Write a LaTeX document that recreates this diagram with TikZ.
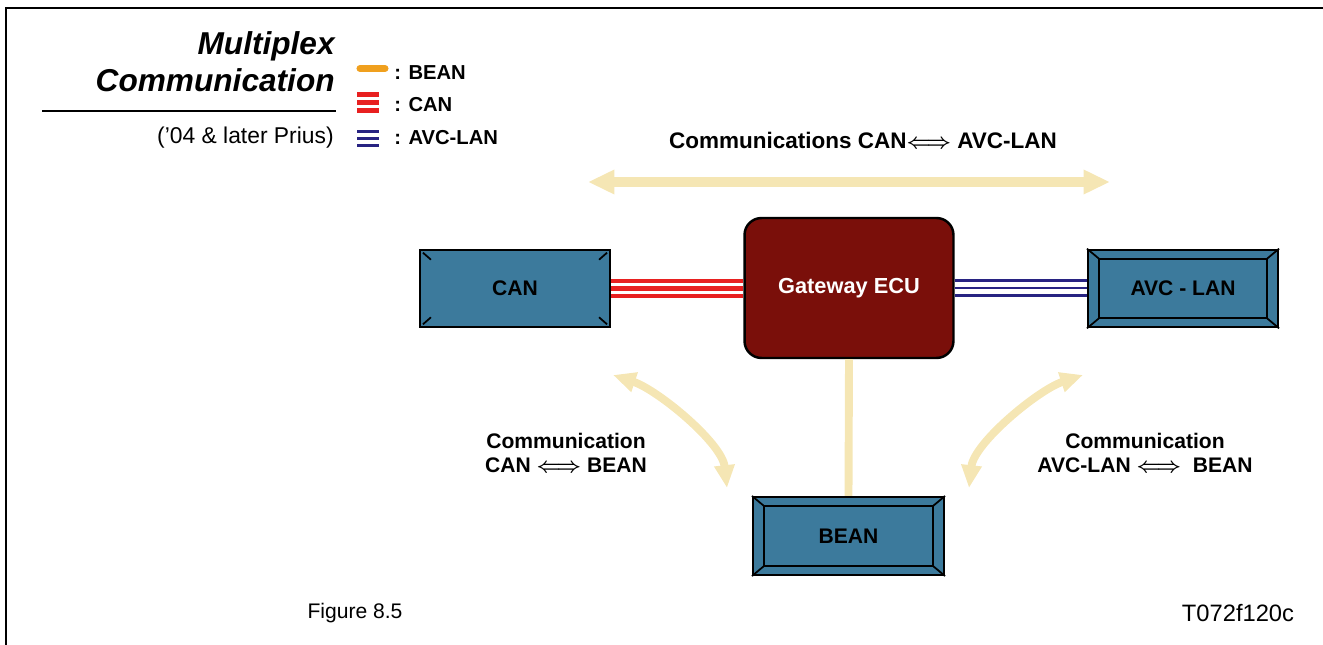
\documentclass[tikz,border=0pt]{standalone}
\usepackage{fontspec}
\setmainfont{Liberation Sans}
\usetikzlibrary{arrows.meta}

\definecolor{unitblue}{RGB}{60,122,156}
\definecolor{gwred}{RGB}{122,15,10}
\definecolor{busred}{RGB}{232,32,32}
\definecolor{busnavy}{RGB}{40,35,130}
\definecolor{beanorange}{RGB}{240,160,30}
\definecolor{flowcream}{RGB}{245,230,180}

\tikzset{
  unit/.style={draw=black, line width=1.2pt, fill=unitblue,
    minimum width=3.8cm, minimum height=1.55cm,
    font=\fontsize{12}{14}\selectfont\bfseries},
  bevel/.style={line width=1pt},
  canwire/.style={busred, line width=2.3pt},
  avcwire/.style={busnavy, line width=1.7pt},
  flow/.style={flowcream, line width=4.5pt,
    {Triangle[width=11pt,length=13pt]}-{Triangle[width=11pt,length=13pt]}},
  lbl/.style={font=\fontsize{12}{13.6}\selectfont\bfseries\boldmath, align=center},
  legendtxt/.style={anchor=base west, inner sep=0pt, font=\fontsize{11.5}{13}\selectfont\bfseries},
  headtxt/.style={anchor=base east, inner sep=0pt, font=\fontsize{18}{20}\selectfont\bfseries\itshape},
}

\begin{document}
\begin{tikzpicture}[x=0.02cm, y=-0.02cm]
\useasboundingbox (0,0) rectangle (1323,645);
% frame
\draw[line width=1.6pt] (6,645) -- (6,8) -- (1323,8);
% heading
\node[headtxt] (title1) at (335,55) {Multiplex};
\node[headtxt] (title2) at (335,92) {Communication};
\draw[line width=0.6pt] (42,111) -- (336,111);
\node[anchor=base east, inner sep=0pt, font=\fontsize{13}{15}\selectfont] (model) at (334,144) {('04 \& later Prius)};
% legend
\draw[beanorange, line width=4pt, line cap=round] (360,68.5) -- (385,68.5);
\foreach \y in {94.5,102.5,110.5}
  \draw[canwire] (357,\y) -- (379,\y);
\foreach \y in {131.5,138.5,145.5}
  \draw[avcwire] (357,\y) -- (379,\y);
\node[legendtxt] (keybean) at (394,80) {: BEAN};
\node[legendtxt] (keycan) at (394,112) {: CAN};
\node[legendtxt] (keyavc) at (394,145) {: AVC-LAN};
% top flow
\node[lbl, font=\fontsize{12.8}{14}\selectfont\bfseries\boldmath] (canavc) at (863,140) {Communications CAN$\Longleftrightarrow$ AVC-LAN};
\coordinate (topL) at (588,182);
\coordinate (topR) at (1110,182);
\draw[flow, line width=5.5pt, {Triangle[width=13pt,length=15pt]}-{Triangle[width=13pt,length=15pt]}] (topL) -- (topR);
% units
\node[unit] (can) at (515,288.5) {CAN};
\node[draw=black, line width=1.4pt, fill=gwred, rounded corners=0.34cm,
  minimum width=4.18cm, minimum height=2.8cm, text=white,
  font=\fontsize{12.4}{14}\selectfont\bfseries] (gw) at (849,288) {Gateway ECU};
\node[unit] (avc) at (1183,288.5) {AVC - LAN};
\node[unit, minimum width=3.82cm, minimum height=1.56cm] (bean) at (848.5,536) {BEAN};
% wires
\foreach \d in {-4.5pt,0pt,4.5pt}
  \draw[canwire] ([yshift=\d]can.east) -- ([yshift=\d]can.east -| gw.west);
\foreach \d in {-4.2pt,0pt,4.2pt}
  \draw[avcwire] ([yshift=\d]gw.east -| gw.east) -- ([yshift=\d]gw.east -| avc.west);
\draw[flowcream, line width=4.5pt] (gw.south) -- (bean.north);
% bevels
\foreach \b in {avc,bean} {
  \draw[bevel] ([shift={(12,10)}]\b.north west) rectangle ([shift={(-12,-10)}]\b.south east);
  \draw[bevel] (\b.north west) -- ++(12,10);
  \draw[bevel] (\b.north east) -- ++(-12,10);
  \draw[bevel] (\b.south west) -- ++(12,-10);
  \draw[bevel] (\b.south east) -- ++(-12,-10);
}
\draw[bevel] ([shift={(4,4)}]can.north west) -- ++(8,7);
\draw[bevel] ([shift={(-4,4)}]can.north east) -- ++(-8,7);
\draw[bevel] ([shift={(4,-4)}]can.south west) -- ++(8,-7);
\draw[bevel] ([shift={(-4,-4)}]can.south east) -- ++(-8,-7);
% bean flows
\coordinate (lcA) at (613,375);
\coordinate (lcB) at (727,488);
\draw[flow] (lcA) .. controls (658,390) and (722,443) .. (lcB);
\coordinate (rcA) at (1083,375);
\coordinate (rcB) at (969,488);
\draw[flow] (rcA) .. controls (1038,390) and (974,443) .. (rcB);
\node[lbl] (canbean) at (566,453) {Communication\\CAN $\Longleftrightarrow$ BEAN};
\node[lbl] (avcbean) at (1145,453) {Communication\\AVC-LAN $\Longleftrightarrow$\ \ BEAN};
% captions
\node[font=\fontsize{12}{14}\selectfont] (fig) at (355,613) {Figure 8.5};
\node[font=\fontsize{13.5}{15}\selectfont] (code) at (1238,613) {T072f120c};
\end{tikzpicture}
\end{document}
